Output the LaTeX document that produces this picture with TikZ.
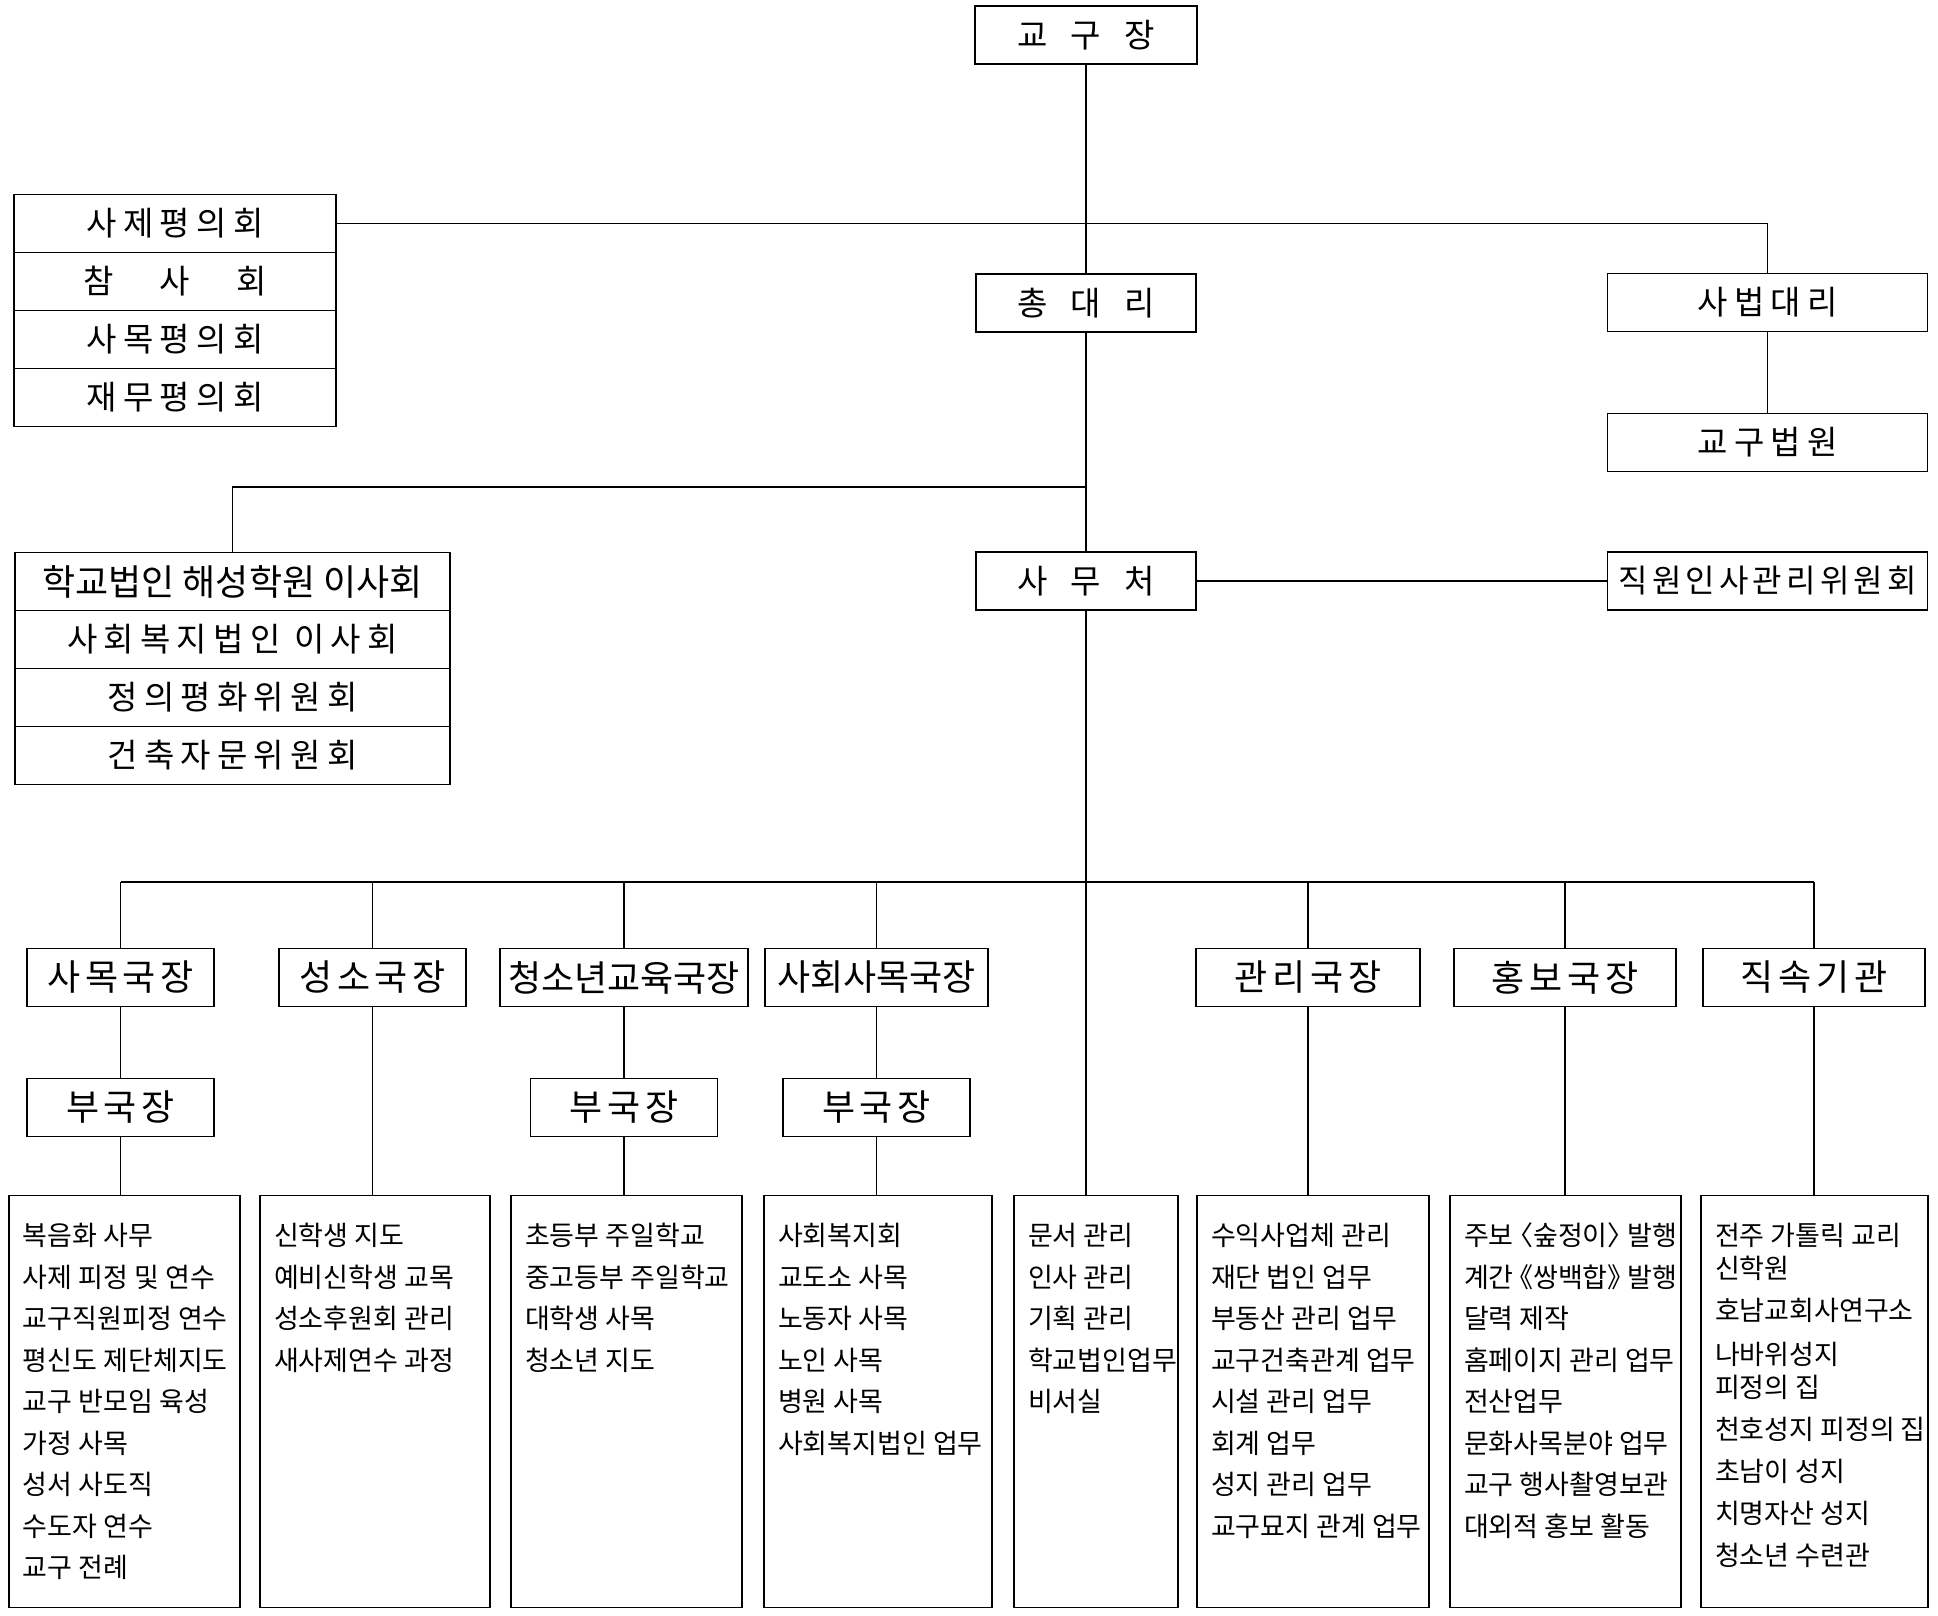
\documentclass[tikz,border=0pt]{standalone}
\usepackage{fontspec}
\setmainfont{Noto Sans CJK KR}
\newfontfamily\widefont[LetterSpace=19]{Noto Sans CJK KR}
\newfontfamily\headfont[LetterSpace=13]{Noto Sans CJK KR}
\newfontfamily\dutyfont{Noto Sans CJK KR}
\newfontfamily\dutyhalt[RawFeature=+halt]{Noto Sans CJK KR}
\usetikzlibrary{positioning}
\newcommand{\duties}[2]{\parbox[t][412pt][t]{#1}{\begin{tabular}[t]{@{}l@{}}\rule{0pt}{50pt}#2\end{tabular}}}

\begin{document}
\begin{tikzpicture}[x=1pt, y=-1pt, node distance=58pt, line width=1.3pt,
  topbox/.style={draw, minimum height=58pt, inner sep=0pt, font=\fontsize{33}{38}\selectfont},
  widebox/.style={topbox, font=\widefont\fontsize{33}{38}\selectfont},
  deptbox/.style={draw, minimum width=187pt, minimum height=58pt, inner sep=0pt, font=\headfont\fontsize{36}{40}\selectfont},
  dutybox/.style={draw, anchor=north, inner xsep=14pt, inner ysep=0pt, font=\dutyfont\fontsize{27}{41.5}\selectfont}]
\fill[white] (0,0) rectangle (1938,1615);
\useasboundingbox (0,0) rectangle (1938,1615);
% top of the chart
\node[topbox, minimum width=222pt] (bishop) at (1086,35) {교\hspace{0.7em}구\hspace{0.7em}장};
\node[topbox, minimum width=220pt] (vicar) at (1086,303) {총\hspace{0.7em}대\hspace{0.7em}리};
\node[topbox, minimum width=220pt] (office) at (1086,581) {사\hspace{0.7em}무\hspace{0.7em}처};
\node[widebox, minimum width=320pt] (judvicar) at (1767.5,302.5) {사법대리};
\node[widebox, minimum width=320pt] (court) at (1767.5,442.5) {교구법원};
\node[topbox, minimum width=320pt, font=\headfont\fontsize{32}{38}\selectfont] (staff) at (1767.5,581) {직원인사관리위원회};
% councils
\node[widebox, minimum width=322pt] (council1) at (175,223.5) {사제평의회};
\node[topbox, minimum width=322pt] (council2) [below of=council1] {참\hspace{1.4em}사\hspace{1.4em}회};
\node[widebox, minimum width=322pt] (council3) [below of=council2] {사목평의회};
\node[widebox, minimum width=322pt] (council4) [below of=council3] {재무평의회};
% boards
\node[topbox, minimum width=435pt, font=\fontsize{36}{40}\selectfont] (board1) at (232.5,581.5) {학교법인 해성학원 이사회};
\node[widebox, minimum width=435pt] (board2) [below of=board1] {사회복지법인 이사회};
\node[widebox, minimum width=435pt] (board3) [below of=board2] {정의평화위원회};
\node[widebox, minimum width=435pt] (board4) [below of=board3] {건축자문위원회};
% departments
\node[deptbox] (past) at (120.5,977.5) {사목국장};
\node[deptbox] (voc) at (372.5,977.5) {성소국장};
\node[deptbox, minimum width=248pt, font=\fontsize{36}{40}\selectfont] (youth) at (624,977.5) {청소년교육국장};
\node[deptbox, minimum width=223pt, font=\fontsize{36}{40}\selectfont] (social) at (876.5,977.5) {사회사목국장};
\node[deptbox, minimum width=224pt] (admin) at (1308,977.5) {관리국장};
\node[deptbox, minimum width=222pt] (press) at (1565,977.5) {홍보국장};
\node[deptbox, minimum width=222pt] (inst) at (1814,977.5) {직속기관};
\node[deptbox] (dep1) at (120.5,1107.5) {부국장};
\node[deptbox] (dep3) at (624,1107.5) {부국장};
\node[deptbox] (dep4) at (876.5,1107.5) {부국장};
% duties
\node[dutybox] (pastlist) at (124.5,1195) {\duties{203pt}{복음화 사무\\사제 피정 및 연수\\교구직원피정 연수\\평신도 제단체지도\\교구 반모임 육성\\가정 사목\\성서 사도직\\수도자 연수\\교구 전례}};
\node[dutybox] (voclist) at (375,1195) {\duties{202pt}{신학생 지도\\예비신학생 교목\\성소후원회 관리\\새사제연수 과정}};
\node[dutybox] (youthlist) at (626.5,1195) {\duties{203pt}{초등부 주일학교\\중고등부 주일학교\\대학생 사목\\청소년 지도}};
\node[dutybox] (sociallist) at (878,1195) {\duties{200pt}{사회복지회\\교도소 사목\\노동자 사목\\노인 사목\\병원 사목\\사회복지법인 업무}};
\node[dutybox] (doclist) at (1096,1195) {\duties{136pt}{문서 관리\\인사 관리\\기획 관리\\학교법인업무\\비서실}};
\node[dutybox] (adminlist) at (1313,1195) {\duties{204pt}{수익사업체 관리\\재단 법인 업무\\부동산 관리 업무\\교구건축관계 업무\\시설 관리 업무\\회계 업무\\성지 관리 업무\\교구묘지 관계 업무}};
\node[dutybox] (presslist) at (1565.5,1195) {\duties{203pt}{{\dutyhalt 주보 〈숲정이〉 발행}\\{\dutyhalt 계간 《쌍백합》 발행}\\달력 제작\\홈페이지 관리 업무\\전산업무\\문화사목분야 업무\\교구 행사촬영보관\\대외적 홍보 활동}};
\node[dutybox, font=\dutyfont\fontsize{27}{32.5}\selectfont] (instlist) at (1814.5,1195) {\duties{199pt}{전주 가톨릭 교리\\신학원\\[9.5pt]호남교회사연구소\\[12pt]나바위성지\\피정의 집\\[9.5pt]천호성지 피정의 집\\[9.5pt]초남이 성지\\[9.5pt]치명자산 성지\\[9.5pt]청소년 수련관}};
% connectors
\coordinate (split) at (1086,487);
\coordinate (bus) at (0,882);
\draw (bishop) -- (vicar);
\draw (council1.east) -| (judvicar.north);
\draw (judvicar) -- (court);
\draw (vicar) -- (office);
\draw (split) -| (board1.north);
\draw (office) -- (staff);
\draw (office.south) -- (office.south |- doclist.north);
\draw (past.north |- bus) -- (inst.north |- bus);
\foreach \d in {past,voc,youth,social,admin,press,inst}
  \draw (\d.north |- bus) -- (\d.north);
\draw (past) -- (dep1);
\draw (youth) -- (dep3);
\draw (social) -- (dep4);
\draw (dep1.south) -- (dep1.south |- pastlist.north);
\draw (dep3.south) -- (dep3.south |- youthlist.north);
\draw (dep4.south) -- (dep4.south |- sociallist.north);
\draw (voc.south) -- (voc.south |- voclist.north);
\draw (admin.south) -- (admin.south |- adminlist.north);
\draw (press.south) -- (press.south |- presslist.north);
\draw (inst.south) -- (inst.south |- instlist.north);
\end{tikzpicture}
\end{document}
